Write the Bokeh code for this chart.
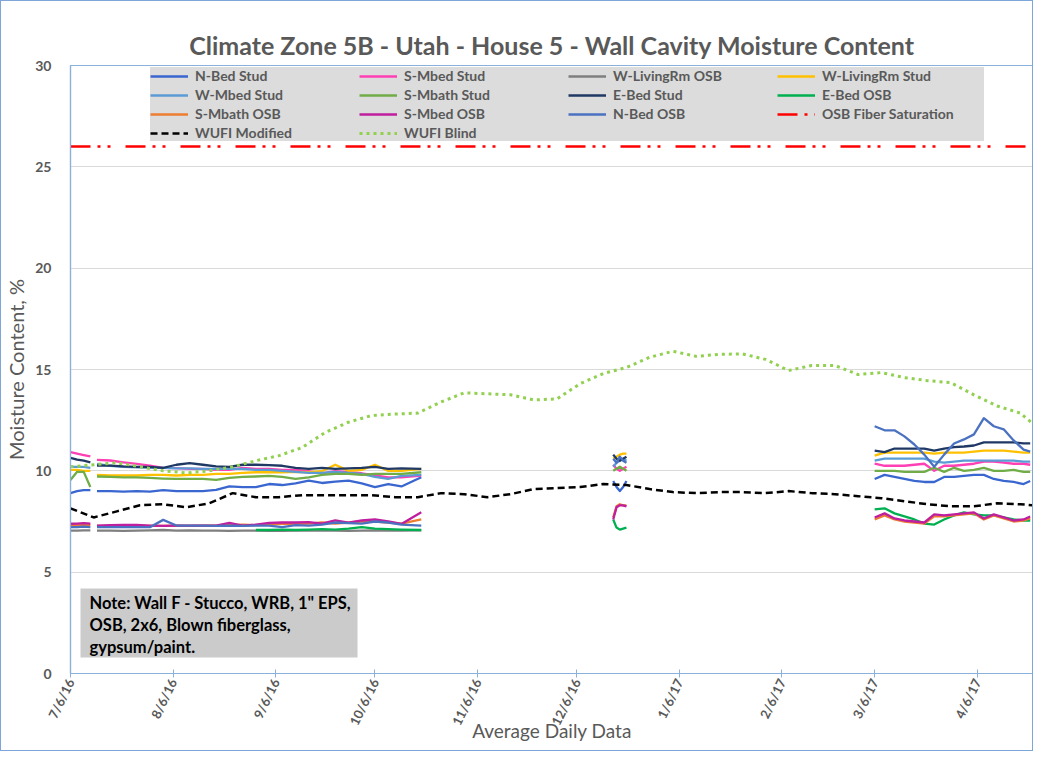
import numpy as np
import pandas as pd
from bokeh.plotting import figure
from bokeh.models import (Range1d, FixedTicker, Legend, LegendItem, Label,
                          BoxAnnotation, ColumnDataSource)
from bokeh.embed import file_html
from bokeh.resources import INLINE

# ---------------- data ----------------
MEAS_DATES = [
    "2016-07-06", "2016-07-08", "2016-07-10", "2016-07-12",
    "2016-07-13",
    "2016-07-14", "2016-07-18", "2016-07-22", "2016-07-26", "2016-07-30",
    "2016-08-03", "2016-08-07", "2016-08-11", "2016-08-15", "2016-08-19",
    "2016-08-23", "2016-08-27", "2016-08-31", "2016-09-04", "2016-09-08",
    "2016-09-12", "2016-09-16", "2016-09-20", "2016-09-24", "2016-09-28",
    "2016-10-02", "2016-10-06", "2016-10-10", "2016-10-14", "2016-10-20",
    "2016-11-15",
    "2016-12-17", "2016-12-18", "2016-12-19", "2016-12-20", "2016-12-21",
    "2017-01-30",
    "2017-03-06", "2017-03-09", "2017-03-12", "2017-03-15", "2017-03-18",
    "2017-03-21", "2017-03-24", "2017-03-27", "2017-03-30", "2017-04-02",
    "2017-04-05", "2017-04-08", "2017-04-11", "2017-04-14", "2017-04-17",
    "2017-04-20", "2017-04-22",
]
G = None  # no data

N_BED_STUD = [8.9, 9.0, 9.05, 9.05, G,
              9.0, 9.0, 8.97, 9.0, 8.97, 9.05, 9.0, 9.0, 9.0, 9.06,
              9.23, 9.2, 9.2, 9.35, 9.3, 9.38, 9.52, 9.4, 9.47, 9.52,
              9.38, 9.2, 9.35, 9.23, 9.68, G,
              9.5, 9.2, 9.0, 9.2, 9.5, G,
              9.6, 9.8, 9.7, 9.6, 9.5, 9.45, 9.45, 9.7, 9.7, 9.75,
              9.8, 9.8, 9.6, 9.5, 9.45, 9.35, 9.5]
S_MBED_STUD = [10.92, 10.85, 10.78, 10.71, G,
               10.54, 10.51, 10.42, 10.34, 10.26, 10.15, 10.13, 10.1, 10.1, 10.05,
               10.05, 10.15, 10.1, 10.1, 10.05, 10.05, 9.98, 9.88, 9.98, 9.93,
               9.88, 9.77, 9.68, 9.68, 9.77, G,
               10.3, 10.1, 10.0, 10.1, 10.2, G,
               10.35, 10.25, 10.25, 10.25, 10.3, 10.35, 10.0, 10.25, 10.25, 10.3,
               10.35, 10.45, 10.45, 10.4, 10.35, 10.35, 10.3]
W_LIVINGRM_OSB = [7.05, 7.05, 7.06, 7.06, G,
                  7.05, 7.05, 7.04, 7.05, 7.06, 7.08, 7.05, 7.06, 7.05, 7.05,
                  7.04, 7.05, 7.05, 7.04, 7.04, 7.05, 7.06, 7.05, 7.05, 7.04,
                  7.05, 7.06, 7.05, 7.05, 7.06, G,
                  G, G, G, G, G, G,
                  G, G, G, G, G, G, G, G, G, G, G, G, G, G, G, G, G]
W_LIVINGRM_STUD = [10.05, 10.05, 10.0, 10.0, G,
                   9.8, 9.77, 9.77, 9.77, 9.8, 9.8, 9.77, 9.8, 9.8, 9.85,
                   9.85, 9.9, 9.93, 9.93, 9.93, 9.95, 9.93, 9.98, 10.3, 10.0,
                   10.05, 10.3, 10.0, 10.0, 10.1, G,
                   10.6, 10.7, 10.8, 10.85, 10.85, G,
                   10.75, 10.9, 10.9, 10.9, 10.9, 10.9, 10.85, 10.9, 10.9, 10.9,
                   10.95, 11.0, 11.0, 11.0, 10.95, 10.9, 10.9]
W_MBED_STUD = [10.2, 10.2, 10.2, 10.15, G,
               10.34, 10.25, 10.2, 10.17, 10.15, 10.15, 10.12, 10.12, 10.1, 10.1,
               10.1, 10.1, 10.05, 10.05, 10.0, 9.95, 9.9, 9.9, 9.95, 9.9,
               9.85, 9.7, 9.6, 9.75, 9.8, G,
               10.2, 10.4, 10.5, 10.6, 10.5, G,
               10.5, 10.6, 10.6, 10.6, 10.6, 10.6, 10.45, 10.4, 10.45, 10.5,
               10.5, 10.5, 10.5, 10.5, 10.5, 10.45, 10.45]
S_MBATH_STUD = [9.55, 9.95, 9.95, 9.2, G,
                9.72, 9.7, 9.68, 9.68, 9.65, 9.62, 9.6, 9.6, 9.6, 9.55,
                9.65, 9.7, 9.72, 9.75, 9.7, 9.6, 9.68, 9.8, 9.85, 9.85,
                9.8, 9.85, 9.85, 9.85, 9.93, G,
                10.0, 10.1, 10.2, 10.1, 10.0, G,
                10.0, 10.0, 10.0, 9.95, 9.95, 9.95, 10.15, 9.95, 10.15, 10.0,
                10.05, 10.15, 10.0, 10.0, 10.05, 9.95, 9.95]
E_BED_STUD = [10.64, 10.55, 10.5, 10.42, G,
              10.26, 10.26, 10.22, 10.2, 10.2, 10.15, 10.3, 10.38, 10.3, 10.22,
              10.2, 10.3, 10.3, 10.28, 10.25, 10.15, 10.1, 10.15, 10.1, 10.12,
              10.15, 10.2, 10.1, 10.12, 10.1, G,
              10.8, 10.6, 10.5, 10.6, 10.7, G,
              11.0, 10.92, 11.1, 11.1, 11.1, 11.1, 11.0, 11.1, 11.17, 11.2,
              11.25, 11.4, 11.4, 11.4, 11.4, 11.35, 11.35]
E_BED_OSB = [G, G, G, G, G,
             G, G, G, G, G, G, G, G, G, G,
             G, G, 7.08, 7.08, 7.1, 7.08, 7.1, 7.12, 7.1, 7.15,
             7.22, 7.15, 7.12, 7.1, 7.08, G,
             7.6, 7.2, 7.1, 7.15, 7.2, G,
             8.1, 8.15, 7.9, 7.75, 7.6, 7.4, 7.35, 7.6, 7.8, 7.95,
             7.85, 7.8, 7.8, 7.7, 7.6, 7.55, 7.55]
S_MBATH_OSB = [7.32, 7.33, 7.33, 7.32, G,
               7.28, 7.28, 7.3, 7.3, 7.28, 7.28, 7.3, 7.28, 7.3, 7.3,
               7.32, 7.35, 7.32, 7.35, 7.4, 7.38, 7.4, 7.45, 7.4, 7.45,
               7.5, 7.5, 7.45, 7.4, 7.6, G,
               7.7, 8.25, 8.35, 8.3, 8.3, G,
               7.6, 7.8, 7.6, 7.5, 7.45, 7.4, 7.75, 7.75, 7.8, 7.85,
               7.9, 7.6, 7.8, 7.65, 7.5, 7.55, 7.65]
S_MBED_OSB = [7.39, 7.4, 7.42, 7.4, G,
              7.3, 7.32, 7.33, 7.33, 7.3, 7.28, 7.3, 7.3, 7.3, 7.3,
              7.43, 7.3, 7.35, 7.43, 7.45, 7.45, 7.47, 7.4, 7.56, 7.45,
              7.55, 7.6, 7.5, 7.38, 7.96, G,
              7.6, 8.2, 8.3, 8.3, 8.25, G,
              7.7, 7.9, 7.65, 7.55, 7.5, 7.45, 7.85, 7.8, 7.85, 7.9,
              7.95, 7.65, 7.85, 7.7, 7.55, 7.6, 7.75]
N_BED_OSB = [7.22, 7.22, 7.25, 7.22, G,
             7.22, 7.22, 7.22, 7.22, 7.22, 7.58, 7.3, 7.3, 7.3, 7.28,
             7.3, 7.28, 7.3, 7.3, 7.22, 7.32, 7.3, 7.35, 7.45, 7.42,
             7.4, 7.5, 7.45, 7.35, 7.3, G,
             10.6, 10.4, 10.7, 10.5, 10.4, G,
             12.2, 12.0, 12.0, 11.7, 11.3, 10.8, 10.2, 10.8, 11.35, 11.55,
             11.8, 12.6, 12.2, 12.05, 11.5, 11.05, 10.95]

SAT_DATES = ["2016-07-06", "2017-04-23"]
OSB_FIBER_SATURATION = [26.0, 26.0]

WUFI_DATES = [
    "2016-07-06", "2016-07-13", "2016-07-20", "2016-07-27", "2016-08-03",
    "2016-08-10", "2016-08-17", "2016-08-24", "2016-08-31", "2016-09-07",
    "2016-09-14", "2016-09-21", "2016-09-28", "2016-10-05", "2016-10-12",
    "2016-10-19", "2016-10-26", "2016-11-02", "2016-11-09", "2016-11-16",
    "2016-11-23", "2016-11-30", "2016-12-07", "2016-12-14", "2016-12-21",
    "2016-12-28", "2017-01-04", "2017-01-11", "2017-01-18", "2017-01-25",
    "2017-02-01", "2017-02-08", "2017-02-15", "2017-02-22", "2017-03-01",
    "2017-03-08", "2017-03-15", "2017-03-22", "2017-03-29", "2017-04-05",
    "2017-04-12", "2017-04-19", "2017-04-23",
]
WUFI_MODIFIED = [8.15, 7.7, 8.0, 8.3, 8.35, 8.2, 8.4, 8.9, 8.7, 8.7,
                 8.8, 8.8, 8.8, 8.8, 8.7, 8.7, 8.9, 8.85, 8.7, 8.85,
                 9.1, 9.15, 9.2, 9.35, 9.3, 9.1, 8.95, 8.9, 8.95, 8.95,
                 8.9, 9.0, 8.9, 8.85, 8.75, 8.65, 8.5, 8.35, 8.25, 8.25,
                 8.4, 8.35, 8.3]
WUFI_BLIND = [10.2, 10.3, 10.4, 10.2, 10.0, 9.9, 10.0, 10.2, 10.5, 10.75,
              11.15, 11.9, 12.4, 12.73, 12.8, 12.85, 13.4, 13.85, 13.8, 13.75,
              13.5, 13.55, 14.3, 14.8, 15.1, 15.6, 15.9, 15.65, 15.75, 15.77,
              15.5, 14.95, 15.2, 15.2, 14.75, 14.85, 14.6, 14.45, 14.35, 13.75,
              13.2, 12.85, 12.3]

TICK_DATES = ["2016-07-06", "2016-08-06", "2016-09-06", "2016-10-06",
              "2016-11-06", "2016-12-06", "2017-01-06", "2017-02-06",
              "2017-03-06", "2017-04-06"]
TICK_LABELS = ["7/6/16", "8/6/16", "9/6/16", "10/6/16", "11/6/16",
               "12/6/16", "1/6/17", "2/6/17", "3/6/17", "4/6/17"]
Y_TICKS = [0, 5, 10, 15, 20, 25, 30]

TITLE = "Climate Zone 5B - Utah - House 5 - Wall Cavity Moisture Content"
NOTE = 'Note: Wall F - Stucco, WRB, 1" EPS,\nOSB, 2x6, Blown fiberglass,\ngypsum/paint.'

# ---------------- figure ----------------
FONT = "Lato"
GRAY_TXT = "#595959"
AXIS_BLUE = "#8AB0DE"

p = figure(width=1031, height=749, x_axis_type="datetime",
           x_range=Range1d(pd.Timestamp("2016-07-06"), pd.Timestamp("2017-04-23")),
           y_range=Range1d(0, 30),
           output_backend="svg", toolbar_location=None,
           min_border_left=61, min_border_right=1, min_border_top=64,
           min_border_bottom=79,
           styles={"border": "1px solid #7EA6D8", "box-sizing": "content-box"})
p.background_fill_color = "white"
p.border_fill_color = "white"
p.outline_line_color = AXIS_BLUE
p.outline_line_width = 1.2

p.title.text = TITLE
p.title.align = "center"
p.title.text_font = FONT
p.title.text_font_size = "25px"
p.title.text_font_style = "bold"
p.title.text_color = GRAY_TXT
p.title.standoff = 12

meas_x = pd.to_datetime(MEAS_DATES)


def arr(v):
    return np.array([np.nan if a is None else a for a in v], dtype=float)


series = [
    ("N-Bed Stud", N_BED_STUD, "#3A66D0"),
    ("S-Mbed Stud", S_MBED_STUD, "#FF3FB4"),
    ("W-LivingRm OSB", W_LIVINGRM_OSB, "#7F7F7F"),
    ("W-LivingRm Stud", W_LIVINGRM_STUD, "#FFC000"),
    ("W-Mbed Stud", W_MBED_STUD, "#5B9BD5"),
    ("S-Mbath Stud", S_MBATH_STUD, "#70AD47"),
    ("E-Bed Stud", E_BED_STUD, "#1F3864"),
    ("E-Bed OSB", E_BED_OSB, "#00B050"),
    ("S-Mbath OSB", S_MBATH_OSB, "#ED7D31"),
    ("S-Mbed OSB", S_MBED_OSB, "#BF1E9E"),
    ("N-Bed OSB", N_BED_OSB, "#4A72C0"),
]

items = []
for name, vals, color in series:
    src = ColumnDataSource(dict(x=meas_x, y=arr(vals)))
    r = p.line("x", "y", source=src, line_color=color, line_width=2.3,
               line_join="round")
    items.append(LegendItem(label=name, renderers=[r]))

src_sat = ColumnDataSource(dict(x=pd.to_datetime(SAT_DATES), y=OSB_FIBER_SATURATION))
r_sat = p.line("x", "y", source=src_sat, line_color="#FF0000", line_width=2.6,
               line_dash="20 7 3 7 3 15")
items.append(LegendItem(label="OSB Fiber Saturation", renderers=[r_sat]))

wx = pd.to_datetime(WUFI_DATES)
r_mod = p.line(wx, WUFI_MODIFIED, line_color="black", line_width=2.5,
               line_dash="7 4")
items.append(LegendItem(label="WUFI Modified", renderers=[r_mod]))
r_bl = p.line(wx, WUFI_BLIND, line_color="#92D050", line_width=3,
              line_dash="3 4")
items.append(LegendItem(label="WUFI Blind", renderers=[r_bl]))

# ---------------- axes ----------------
tick_ms = [pd.Timestamp(d).value / 1e6 for d in TICK_DATES]
xa = p.xaxis[0]
xa.ticker = FixedTicker(ticks=tick_ms)
xa.major_label_overrides = {t: l for t, l in zip(tick_ms, TICK_LABELS)}
xa.major_label_orientation = 1.12
xa.major_label_text_font = FONT
xa.major_label_text_font_size = "13px"
xa.major_label_text_font_style = "bold"
xa.major_label_text_color = GRAY_TXT
xa.major_label_standoff = 2
xa.minor_tick_line_color = None
xa.major_tick_in = 4
xa.major_tick_out = 4
xa.major_tick_line_color = AXIS_BLUE
xa.axis_line_color = AXIS_BLUE
xa.axis_line_width = 1.2
xa.axis_label = "Average Daily Data"
xa.axis_label_text_font = FONT
xa.axis_label_text_font_size = "19px"
xa.axis_label_text_font_style = "normal"
xa.axis_label_text_color = GRAY_TXT
xa.axis_label_standoff = -15

ya = p.yaxis[0]
ya.ticker = FixedTicker(ticks=Y_TICKS)
ya.major_label_text_font = FONT
ya.major_label_text_font_size = "14px"
ya.major_label_text_font_style = "bold"
ya.major_label_text_color = GRAY_TXT
ya.major_tick_line_color = None
ya.minor_tick_line_color = None
ya.major_label_standoff = 13
ya.axis_line_color = AXIS_BLUE
ya.axis_line_width = 1.2
ya.axis_label = "Moisture Content, %"
ya.axis_label_text_font = FONT
ya.axis_label_text_font_size = "20px"
ya.axis_label_text_font_style = "normal"
ya.axis_label_text_color = GRAY_TXT
ya.axis_label_standoff = 4

p.xgrid.visible = False
p.ygrid.ticker = FixedTicker(ticks=Y_TICKS)
p.ygrid.grid_line_color = "#D9D9D9"
p.ygrid.grid_line_width = 1

# ---------------- legend ----------------
legend = Legend(items=items, orientation="horizontal", ncols=4,
                location=(80, 532),
                background_fill_color="#D9D9D9", background_fill_alpha=0.92,
                border_line_color=None,
                glyph_width=38, glyph_height=16, label_height=16,
                label_width=162, label_standoff=7, spacing=2, padding=1,
                margin=0,
                label_text_font=FONT, label_text_font_size="14px",
                label_text_font_style="bold", label_text_color=GRAY_TXT)
p.add_layout(legend)

# ---------------- note box ----------------
note_box = BoxAnnotation(left=10, right=287, bottom=16, top=85,
                         left_units="screen", right_units="screen",
                         bottom_units="screen", top_units="screen",
                         fill_color="#CBCBCB", fill_alpha=1.0, line_color=None)
p.add_layout(note_box)
note = Label(x=19, y=81, x_units="screen", y_units="screen", text=NOTE,
             text_baseline="top", text_align="left", text_font=FONT,
             text_font_size="16.5px", text_font_style="bold",
             text_color="black", text_line_height=1.12)
p.add_layout(note)

open("out.html", "w").write(file_html(p, INLINE))
